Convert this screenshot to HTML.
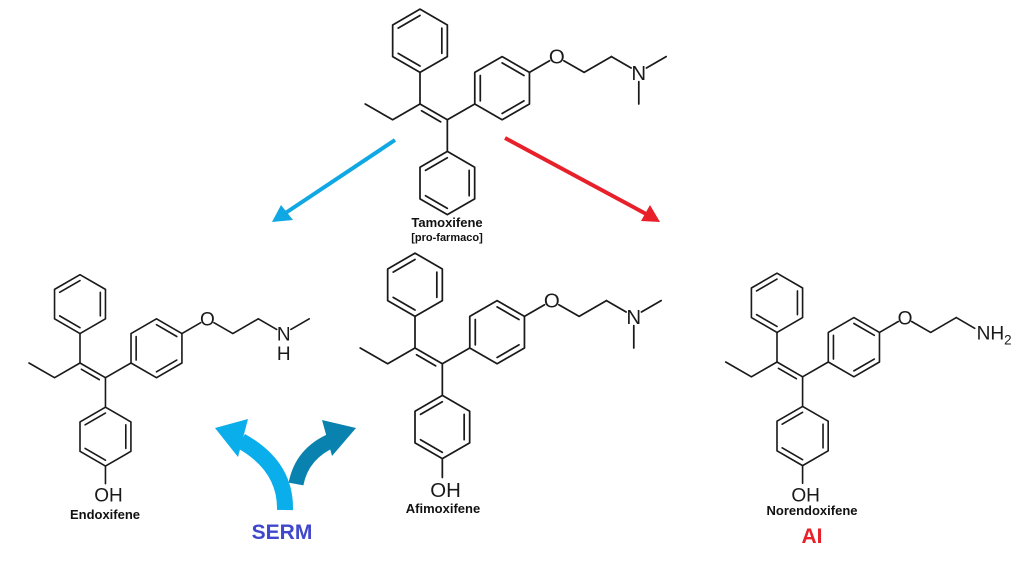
<!DOCTYPE html>
<html><head><meta charset="utf-8"><style>
html,body{margin:0;padding:0;background:#fff;}
svg{display:block;}
.b{stroke:#1a1a1a;stroke-width:1.7;fill:none;stroke-linecap:round;stroke-linejoin:round;}
.at{font-family:"Liberation Sans",sans-serif;font-size:20px;fill:#1a1a1a;text-anchor:middle;}
.lb{font-family:"Liberation Sans",sans-serif;font-weight:bold;font-size:13px;fill:#111;text-anchor:middle;}
</style></head><body>
<svg width="1022" height="567" viewBox="0 0 1022 567" xmlns="http://www.w3.org/2000/svg">
<defs>
<g id="core" class="b">
  <path d="M0,0 L26.8,15.5 M1.5,6.6 L20.3,17.5"/>
  <path d="M0,0 L-26.8,15.5 L-53.7,0"/>
  <path d="M0,0 L0,-31"/>
  <path d="M0,-31 L26.8,-46.5 L26.8,-77.5 L0,-93 L-26.8,-77.5 L-26.8,-46.5 Z"/>
  <path d="M21.4,-49.6 L21.4,-74.4 M0,-86.8 L-21.4,-74.4 M-21.4,-49.6 L0,-37.2"/>
  <path d="M26.8,15.5 L53.7,0"/>
  <path d="M53.7,0 L53.7,-31 L80.5,-46.5 L107.3,-31 L107.3,0 L80.5,15.5 Z"/>
  <path d="M59.1,-3.1 L59.1,-27.9 M80.5,-40.3 L101.9,-27.9 M101.9,-3.1 L80.5,9.3"/>
  <path d="M107.3,-31 L127,-42.4 M141,-42.4 L160.9,-31 L187.7,-46.5"/>
  <path d="M26.8,15.5 L26.8,46.5"/>
  <path d="M26.8,46.5 L53.6,62 L53.6,93 L26.8,108.5 L0,93 L0,62 Z"/>
  <path d="M48.2,65.1 L48.2,89.9 M26.8,102.3 L5.4,89.9 M5.4,65.1 L26.8,52.7"/>
</g>
<g id="nme2">
  <path class="b" d="M187.7,-46.5 L207,-35.3 M222,-35.3 L241.3,-46.5 M214.5,-22 L214.5,0"/>
  <text class="at" x="214.5" y="-23.5">N</text>
</g>
</defs>

<g transform="translate(420,104) scale(1.02)">
  <use href="#core"/>
  <use href="#nme2"/>
  <text class="at" x="134.1" y="-39.5">O</text>
</g>
<text class="lb" x="447" y="227">Tamoxifene</text>
<text class="lb" x="447" y="241" style="font-size:11px">[pro-farmaco]</text>

<g transform="translate(80,363) scale(0.95)">
  <use href="#core"/>
  <path class="b" d="M187.7,-46.5 L207,-35.3 M222,-35.3 L241.3,-46.5 M26.8,108.5 L26.8,127"/>
  <text class="at" x="214.5" y="-23.5">N</text>
  <text class="at" x="214.5" y="-3">H</text>
  <text class="at" x="134.1" y="-39.5">O</text>
  <text class="at" x="30" y="146">OH</text>
</g>
<text class="lb" x="105" y="519">Endoxifene</text>

<g transform="translate(415,348) scale(1.02)">
  <use href="#core"/>
  <use href="#nme2"/>
  <path class="b" d="M26.8,108.5 L26.8,127"/>
  <text class="at" x="134.1" y="-39.5">O</text>
  <text class="at" x="30" y="146">OH</text>
</g>
<text class="lb" x="443" y="513">Afimoxifene</text>

<g transform="translate(777,362) scale(0.955)">
  <use href="#core"/>
  <path class="b" d="M187.7,-46.5 L207,-35.3 M26.8,108.5 L26.8,127"/>
  <text class="at" x="134.1" y="-39.5">O</text>
  <text class="at" x="209" y="-23.5" style="text-anchor:start">NH<tspan font-size="14" dy="5">2</tspan></text>
  <text class="at" x="30" y="146">OH</text>
</g>
<text class="lb" x="812" y="515">Norendoxifene</text>
<text x="812" y="543" style="font-family:'Liberation Sans',sans-serif;font-weight:bold;font-size:21px;fill:#e8202a;text-anchor:middle">AI</text>

<line x1="395" y1="140" x2="284" y2="214" stroke="#10a8e4" stroke-width="4"/>
<polygon points="272,222 281,205 293,220" fill="#10a8e4"/>
<line x1="505" y1="138" x2="648" y2="215" stroke="#e8202a" stroke-width="4"/>
<polygon points="660,222 641,221 650,205" fill="#e8202a"/>

<path d="M285,510 Q286,466 241,441" stroke="#0aaeea" stroke-width="16" fill="none"/>
<polygon points="215,428 248,419 238,457" fill="#0aaeea"/>
<path d="M296,484 Q302,453 333,440" stroke="#0a82b0" stroke-width="15" fill="none"/>
<polygon points="356,428 322,420 332,456" fill="#0a82b0"/>
<text x="282" y="539" style="font-family:'Liberation Sans',sans-serif;font-weight:bold;font-size:21px;fill:#3f48cc;text-anchor:middle">SERM</text>
</svg>
</body></html>
